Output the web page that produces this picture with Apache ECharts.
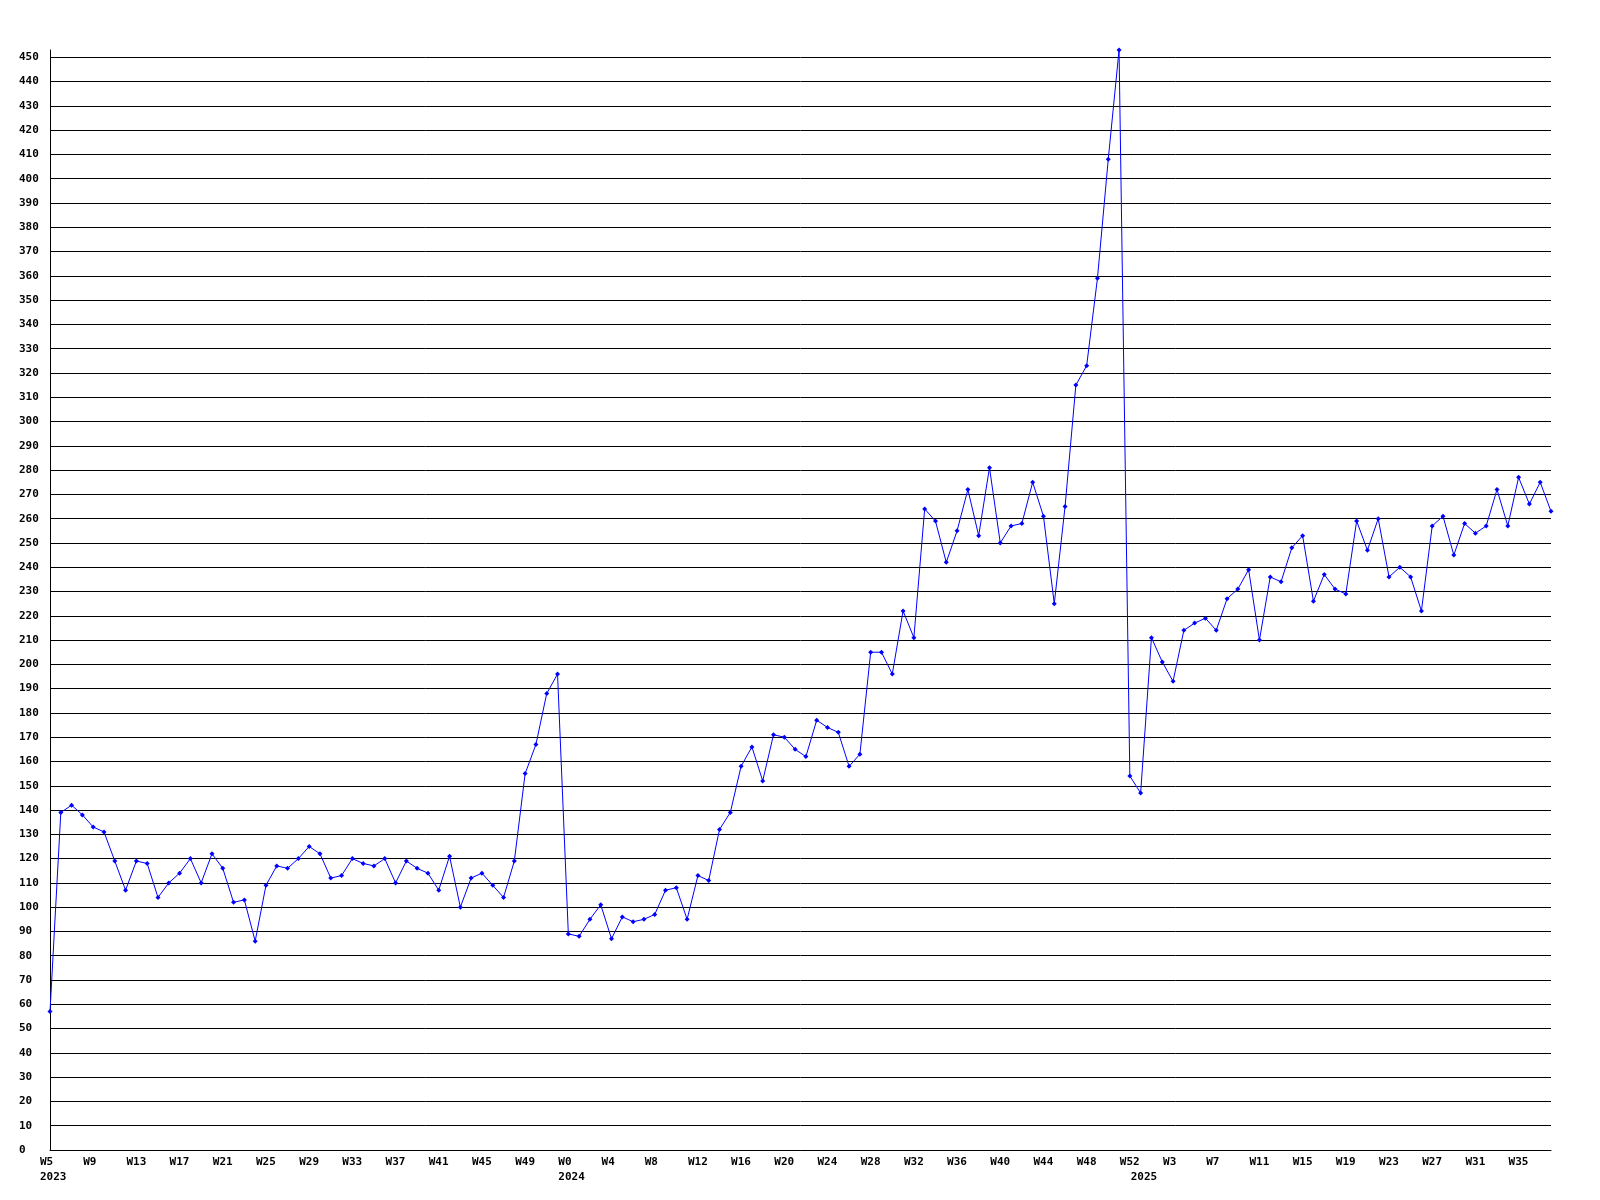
<!DOCTYPE html>
<html><head><meta charset="utf-8">
<script src="https://cdn.jsdelivr.net/npm/echarts@6/dist/echarts.min.js"></script>
<style>html,body{margin:0;padding:0;background:#fff}#c{width:1600px;height:1200px}</style>
</head><body><div id="c"></div>
<script>
// ---- data ----
const years = [2023, 2024, 2025];
const firstWeek = [5, 0, 0];
const values2023 = [57, 139, 142, 138, 133, 131, 119, 107, 119, 118, 104, 110, 114, 120, 110, 122, 116, 102, 103, 86,
  109, 117, 116, 120, 125, 122, 112, 113, 120, 118, 117, 120, 110, 119, 116, 114, 107, 121, 100, 112,
  114, 109, 104, 119, 155, 167, 188, 196];
const values2024 = [89, 88, 95, 101, 87, 96, 94, 95, 97, 107, 108, 95, 113, 111, 132, 139, 158, 166, 152, 171,
  170, 165, 162, 177, 174, 172, 158, 163, 205, 205, 196, 222, 211, 264, 259, 242, 255, 272, 253, 281,
  250, 257, 258, 275, 261, 225, 265, 315, 323, 359, 408, 453, 154];
const values2025 = [147, 211, 201, 193, 214, 217, 219, 214, 227, 231, 239, 210, 236, 234, 248, 253, 226, 237, 231, 229,
  259, 247, 260, 236, 240, 236, 222, 257, 261, 245, 258, 254, 257, 272, 257, 277, 266, 275, 263];
const yMin = 0, yMax = 453, yStep = 10;
const labelEvery = 4;

// ---- build categories ----
const seriesByYear = [values2023, values2024, values2025];
const categories = [];
const values = [];
seriesByYear.forEach((arr, yi) => {
  arr.forEach((v, k) => {
    categories.push(years[yi] + '|W' + (firstWeek[yi] + k));
    values.push(v);
  });
});

const font = { fontFamily: "'DejaVu Sans Mono', monospace", fontWeight: 'bold', fontSize: 11, color: '#000' };

const chart = echarts.init(document.getElementById('c'), null, { renderer: 'canvas' });
chart.setOption({
  backgroundColor: '#fff',
  animation: false,
  grid: [
    { left: 50, right: 49, top: 50, bottom: 50 },
    { left: 40, right: 59, top: 50, bottom: 50 }
  ],
  xAxis: [
    {
      type: 'category', gridIndex: 0, data: categories, boundaryGap: false,
      axisLine: { show: true, lineStyle: { color: '#000', width: 1 } },
      axisTick: { show: false }, axisLabel: { show: false }, splitLine: { show: false }
    },
    {
      type: 'category', gridIndex: 1, data: categories, boundaryGap: false,
      axisLine: { show: false }, axisTick: { show: false }, splitLine: { show: false },
      axisLabel: Object.assign({
        interval: 0, align: 'left', margin: 5, lineHeight: 15,
        formatter: (val, idx) => {
          const [yr, wk] = val.split('|');
          let s = (idx % labelEvery === 0) ? wk : '';
          const prev = idx > 0 ? categories[idx - 1].split('|')[0] : null;
          if (prev !== yr) s += '\n' + yr;
          return s;
        }
      }, font)
    }
  ],
  yAxis: [
    {
      type: 'value', gridIndex: 0, min: yMin, max: yMax, interval: yStep,
      axisLine: { show: true, lineStyle: { color: '#000', width: 1 } },
      axisTick: { show: false },
      axisLabel: Object.assign({ align: 'left', margin: 31, showMaxLabel: false }, font),
      splitLine: { show: true, showMaxLine: false, lineStyle: { color: '#000', width: 1 } }
    },
    { type: 'value', gridIndex: 1, show: false, min: yMin, max: yMax }
  ],
  series: [{
    type: 'line', xAxisIndex: 0, yAxisIndex: 0, data: values,
    lineStyle: { color: '#0000ff', width: 1 },
    itemStyle: { color: '#0000ff' },
    symbol: 'diamond', symbolSize: 5, showAllSymbol: true,
    clip: false
  }]
});
</script></body></html>
